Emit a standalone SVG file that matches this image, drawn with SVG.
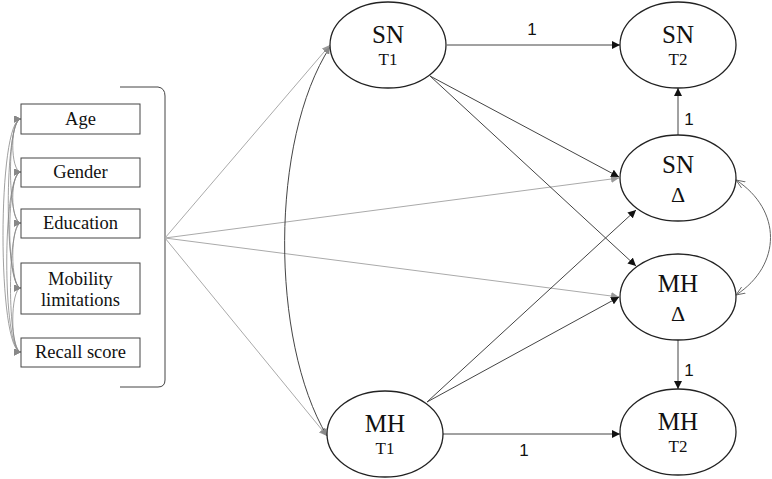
<svg xmlns="http://www.w3.org/2000/svg" width="772" height="479" viewBox="0 0 772 479">
<style>
.box{fill:#fff;stroke:#444;stroke-width:1}
.ell{fill:#fff;stroke:#222;stroke-width:1.3}
.bt{font-family:"Liberation Serif",serif;font-size:18.5px;fill:#111;text-anchor:middle}
.big{font-family:"Liberation Serif",serif;font-size:25px;fill:#111;text-anchor:middle}
.sm{font-family:"Liberation Serif",serif;font-size:17px;fill:#111;text-anchor:middle}
.del{font-family:"Liberation Serif",serif;font-size:22px;fill:#111;text-anchor:middle}
.one{font-family:"Liberation Sans",sans-serif;font-size:17px;fill:#111;text-anchor:middle}
.path{fill:none;stroke:#444;stroke-width:1;marker-end:url(#ah)}
.gray{fill:none;stroke:#aaa;stroke-width:1;marker-end:url(#ahg)}
.cov{fill:none;stroke:#888;stroke-width:0.8;marker-start:url(#ahs);marker-end:url(#ahs)}
</style>
<defs>
<marker id="ah" viewBox="0 0 10 10" refX="10" refY="5" markerWidth="8" markerHeight="8" markerUnits="userSpaceOnUse" orient="auto"><path d="M0,0 L10,5 L0,10 z" fill="#111"/></marker>
<marker id="ahg" viewBox="0 0 10 10" refX="10" refY="5" markerWidth="8" markerHeight="8" markerUnits="userSpaceOnUse" orient="auto"><path d="M0,0 L10,5 L0,10 z" fill="#999"/></marker>
<marker id="ahs" viewBox="0 0 10 10" refX="10" refY="5" markerWidth="7" markerHeight="7" markerUnits="userSpaceOnUse" orient="auto-start-reverse"><path d="M0,0 L10,5 L0,10 z" fill="#888"/></marker>
<marker id="ahc" viewBox="0 0 10 10" refX="10" refY="5" markerWidth="9" markerHeight="9" markerUnits="userSpaceOnUse" orient="auto-start-reverse"><path d="M0,1 L10,5 L0,9" fill="none" stroke="#666" stroke-width="1"/></marker>
</defs>

<g id="connectors">
  <path d="M120,87 L158,87 Q165,88 165,96 L165,380 Q165,387 158,387 L120,387" fill="none" stroke="#444" stroke-width="1"/>
  <path class="gray" d="M165,238 L330,45"/>
  <path class="gray" d="M165,238 L619,178"/>
  <path class="gray" d="M165,238 L619,297"/>
  <path class="gray" d="M165,238 L327,436"/>
  <path class="cov" d="M21,119 C10,119 10,172 21,172"/>
  <path class="cov" d="M21,119 C7,119 7,223 21,223"/>
  <path class="cov" d="M21,119 C4,119 4,288 21,288"/>
  <path class="cov" d="M21,119 C-3,119 -3,352 21,352"/>
  <path class="cov" d="M21,172 C10,172 10,223 21,223"/>
  <path class="cov" d="M21,172 C6,172 6,288 21,288"/>
  <path class="cov" d="M21,172 C2,172 2,352 21,352"/>
  <path class="cov" d="M21,223 C10,223 10,288 21,288"/>
  <path class="cov" d="M21,223 C7,223 7,352 21,352"/>
  <path class="cov" d="M21,288 C10,288 10,352 21,352"/>
  <path d="M330,47 C270,140 270,340 327,436" fill="none" stroke="#444" stroke-width="1" marker-start="url(#ahs)" marker-end="url(#ahs)"/>
  <path d="M736,180 C782,210 782,265 736,295" fill="none" stroke="#666" stroke-width="1" marker-start="url(#ahc)" marker-end="url(#ahc)"/>
  <path class="path" d="M447,45 L620,45"/>
  <path class="path" d="M443,434 L620,434"/>
  <path class="path" d="M678,135 L678,88"/>
  <path class="path" d="M678,340 L678,389"/>
  <path class="path" d="M430,76 L619,177"/>
  <path class="path" d="M430,76 L636,266"/>
  <path class="path" d="M427,402 L636,210"/>
  <path class="path" d="M427,402 L619,297"/>
  <text class="one" x="532" y="35">1</text>
  <text class="one" x="524" y="456">1</text>
  <text class="one" x="689" y="125">1</text>
  <text class="one" x="689" y="376">1</text>
</g>

<g id="age"><rect class="box" x="21" y="104" width="119" height="30"/><text class="bt" x="80.5" y="125">Age</text></g>
<g id="gender"><rect class="box" x="21" y="158" width="119" height="29"/><text class="bt" x="80.5" y="178">Gender</text></g>
<g id="education"><rect class="box" x="21" y="209" width="119" height="29"/><text class="bt" x="80.5" y="229">Education</text></g>
<g id="mobility"><rect class="box" x="21" y="263" width="119" height="51"/><text class="bt" x="80.5" y="285">Mobility</text><text class="bt" x="80.5" y="306">limitations</text></g>
<g id="recall"><rect class="box" x="21" y="338" width="119" height="29"/><text class="bt" x="80.5" y="358">Recall score</text></g>

<g id="snt1"><ellipse class="ell" cx="388" cy="45" rx="58" ry="43"/><text class="big" x="388" y="43">SN</text><text class="sm" x="388" y="65">T1</text></g>
<g id="snt2"><ellipse class="ell" cx="678" cy="45" rx="58" ry="43"/><text class="big" x="678" y="43">SN</text><text class="sm" x="678" y="65">T2</text></g>
<g id="sndelta"><ellipse class="ell" cx="678" cy="178" rx="58" ry="43"/><text class="big" x="678" y="173">SN</text><text class="del" x="678" y="202">Δ</text></g>
<g id="mhdelta"><ellipse class="ell" cx="678" cy="297" rx="58" ry="43"/><text class="big" x="678" y="292">MH</text><text class="del" x="678" y="321">Δ</text></g>
<g id="mht2"><ellipse class="ell" cx="678" cy="432" rx="58" ry="43"/><text class="big" x="678" y="430">MH</text><text class="sm" x="678" y="452">T2</text></g>
<g id="mht1"><ellipse class="ell" cx="385" cy="434" rx="58" ry="43"/><text class="big" x="385" y="432">MH</text><text class="sm" x="385" y="454">T1</text></g>
</svg>
